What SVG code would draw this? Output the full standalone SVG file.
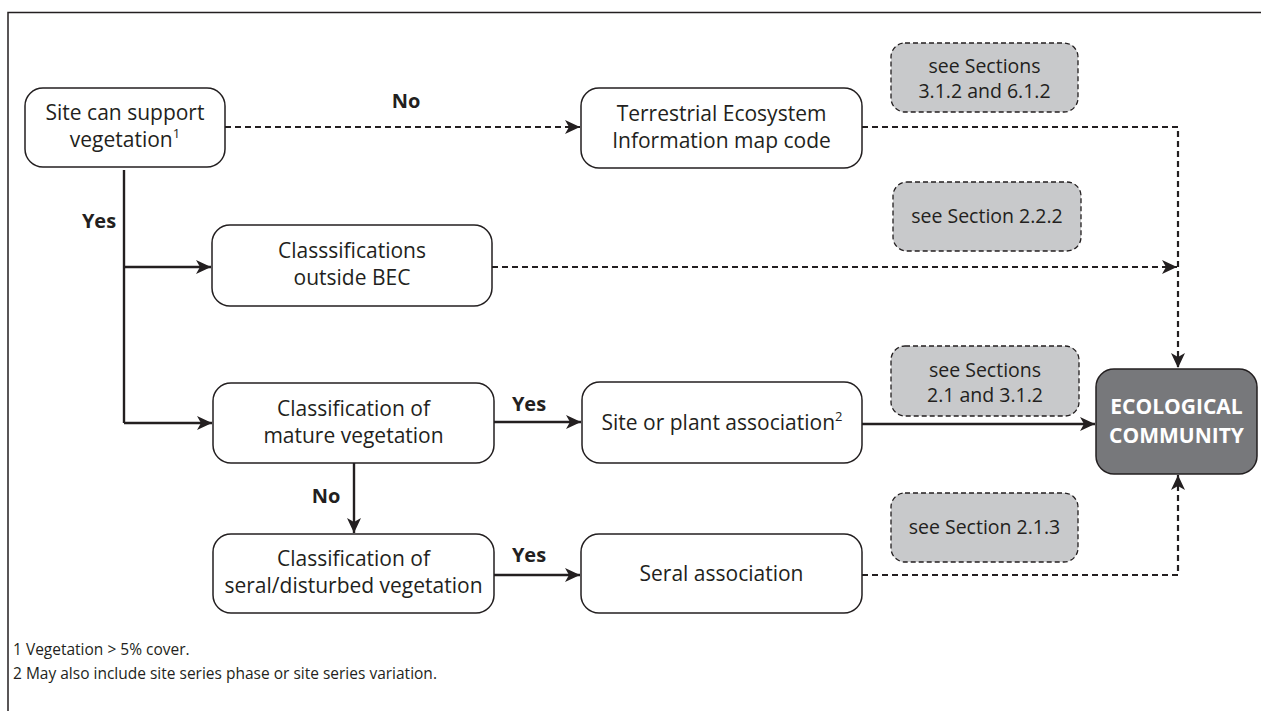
<svg xmlns="http://www.w3.org/2000/svg" width="1261" height="711" viewBox="0 0 1261 711">
  <style>
    .node { fill: #ffffff; stroke: #231f20; stroke-width: 1.5; }
    .ref { fill: #c8c9cb; stroke: #231f20; stroke-width: 1.3; stroke-dasharray: 5 3; }
    .eco { fill: #77787b; stroke: #231f20; stroke-width: 1.5; }
    .t { font-family: "Open Sans", "Noto Sans", sans-serif; font-size: 21px; fill: #231f20; text-anchor: middle; }
    .rt { font-family: "Open Sans", "Noto Sans", sans-serif; font-size: 19.5px; fill: #231f20; text-anchor: middle; }
    .lbl { font-family: "Open Sans", "Noto Sans", sans-serif; font-size: 20px; font-weight: bold; fill: #231f20; text-anchor: middle; }
    .ecot { font-family: "Open Sans", "Noto Sans", sans-serif; font-size: 21px; font-weight: bold; fill: #ffffff; text-anchor: middle; }
    .note { font-family: "Open Sans", "Noto Sans", sans-serif; font-size: 15.5px; fill: #231f20; }
    .solid { fill: none; stroke: #231f20; stroke-width: 2.4; }
    .dash { fill: none; stroke: #231f20; stroke-width: 2.2; stroke-dasharray: 6 4; }
    .sup { font-size: 13px; }
  </style>
  <defs>
    <marker id="arrow" markerUnits="userSpaceOnUse" markerWidth="16" markerHeight="14" refX="15" refY="7" orient="auto">
      <path d="M0,0 L15,7 L0,14 L4,7 z" fill="#231f20"/>
    </marker>
  </defs>

  <!-- frame -->
  <path d="M8,711 V12.5 H1261" fill="none" stroke="#231f20" stroke-width="1.5"/>

  <!-- connectors -->
  <g id="connectors">
    <path class="solid" d="M124,170 V423"/>
    <path class="solid" d="M124,267 H211" marker-end="url(#arrow)"/>
    <path class="solid" d="M124,423 H212" marker-end="url(#arrow)"/>
    <path class="solid" d="M494,422 H581" marker-end="url(#arrow)"/>
    <path class="solid" d="M354,463 V533" marker-end="url(#arrow)"/>
    <path class="solid" d="M494,575 H580" marker-end="url(#arrow)"/>
    <path class="solid" d="M862,424 H1095" marker-end="url(#arrow)"/>
    <path class="dash" d="M225,127 H580" marker-end="url(#arrow)"/>
    <path class="dash" d="M862,127 H1178 V368" marker-end="url(#arrow)"/>
    <path class="dash" d="M492,267 H1177" marker-end="url(#arrow)"/>
    <path class="dash" d="M862,575 H1178 V475" marker-end="url(#arrow)"/>
    <text class="lbl" x="406" y="108">No</text>
    <text class="lbl" x="99" y="228">Yes</text>
    <text class="lbl" x="529" y="411">Yes</text>
    <text class="lbl" x="326" y="503">No</text>
    <text class="lbl" x="529" y="562">Yes</text>
  </g>

  <g id="site-support">
    <rect class="node" x="25" y="88" width="200" height="79" rx="18"/>
    <text class="t" x="125" y="120">Site can support</text>
    <text class="t" x="125" y="147">vegetation<tspan class="sup" dy="-9">1</tspan></text>
  </g>

  <g id="tei-map-code">
    <rect class="node" x="581" y="88" width="281" height="80" rx="18"/>
    <text class="t" x="721.5" y="121">Terrestrial Ecosystem</text>
    <text class="t" x="721.5" y="148">Information map code</text>
  </g>

  <g id="outside-bec">
    <rect class="node" x="212" y="225" width="280" height="81" rx="18"/>
    <text class="t" x="352" y="258">Classsifications</text>
    <text class="t" x="352" y="285">outside BEC</text>
  </g>

  <g id="mature">
    <rect class="node" x="213" y="383" width="281" height="80" rx="18"/>
    <text class="t" x="353.5" y="416">Classification of</text>
    <text class="t" x="353.5" y="443">mature vegetation</text>
  </g>

  <g id="seral-disturbed">
    <rect class="node" x="213" y="534" width="281" height="79" rx="18"/>
    <text class="t" x="353.5" y="566">Classification of</text>
    <text class="t" x="353.5" y="593">seral/disturbed vegetation</text>
  </g>

  <g id="site-plant-association">
    <rect class="node" x="582" y="382" width="280" height="81" rx="18"/>
    <text class="t" x="722" y="430">Site or plant association<tspan class="sup" dy="-9">2</tspan></text>
  </g>

  <g id="seral-association">
    <rect class="node" x="581" y="534" width="281" height="79" rx="18"/>
    <text class="t" x="721.5" y="581">Seral association</text>
  </g>

  <g id="ecological-community">
    <rect class="eco" x="1096" y="369" width="161" height="105" rx="18"/>
    <text class="ecot" x="1176.5" y="414">ECOLOGICAL</text>
    <text class="ecot" x="1176.5" y="443">COMMUNITY</text>
  </g>

  <g id="ref-3-1-2">
    <rect class="ref" x="891" y="43" width="187" height="69" rx="14"/>
    <text class="rt" x="984.5" y="73">see Sections</text>
    <text class="rt" x="984.5" y="98">3.1.2 and 6.1.2</text>
  </g>

  <g id="ref-2-2-2">
    <rect class="ref" x="893" y="182" width="188" height="69" rx="14"/>
    <text class="rt" x="987" y="223">see Section 2.2.2</text>
  </g>

  <g id="ref-2-1">
    <rect class="ref" x="891" y="346" width="188" height="70" rx="14"/>
    <text class="rt" x="985" y="377">see Sections</text>
    <text class="rt" x="985" y="402">2.1 and 3.1.2</text>
  </g>

  <g id="ref-2-1-3">
    <rect class="ref" x="891" y="493" width="187" height="69" rx="14"/>
    <text class="rt" x="984.5" y="534">see Section 2.1.3</text>
  </g>

  <g id="footnotes">
    <text class="note" x="13" y="655">1 Vegetation &gt; 5% cover.</text>
    <text class="note" x="13" y="679">2 May also include site series phase or site series variation.</text>
  </g>
</svg>
